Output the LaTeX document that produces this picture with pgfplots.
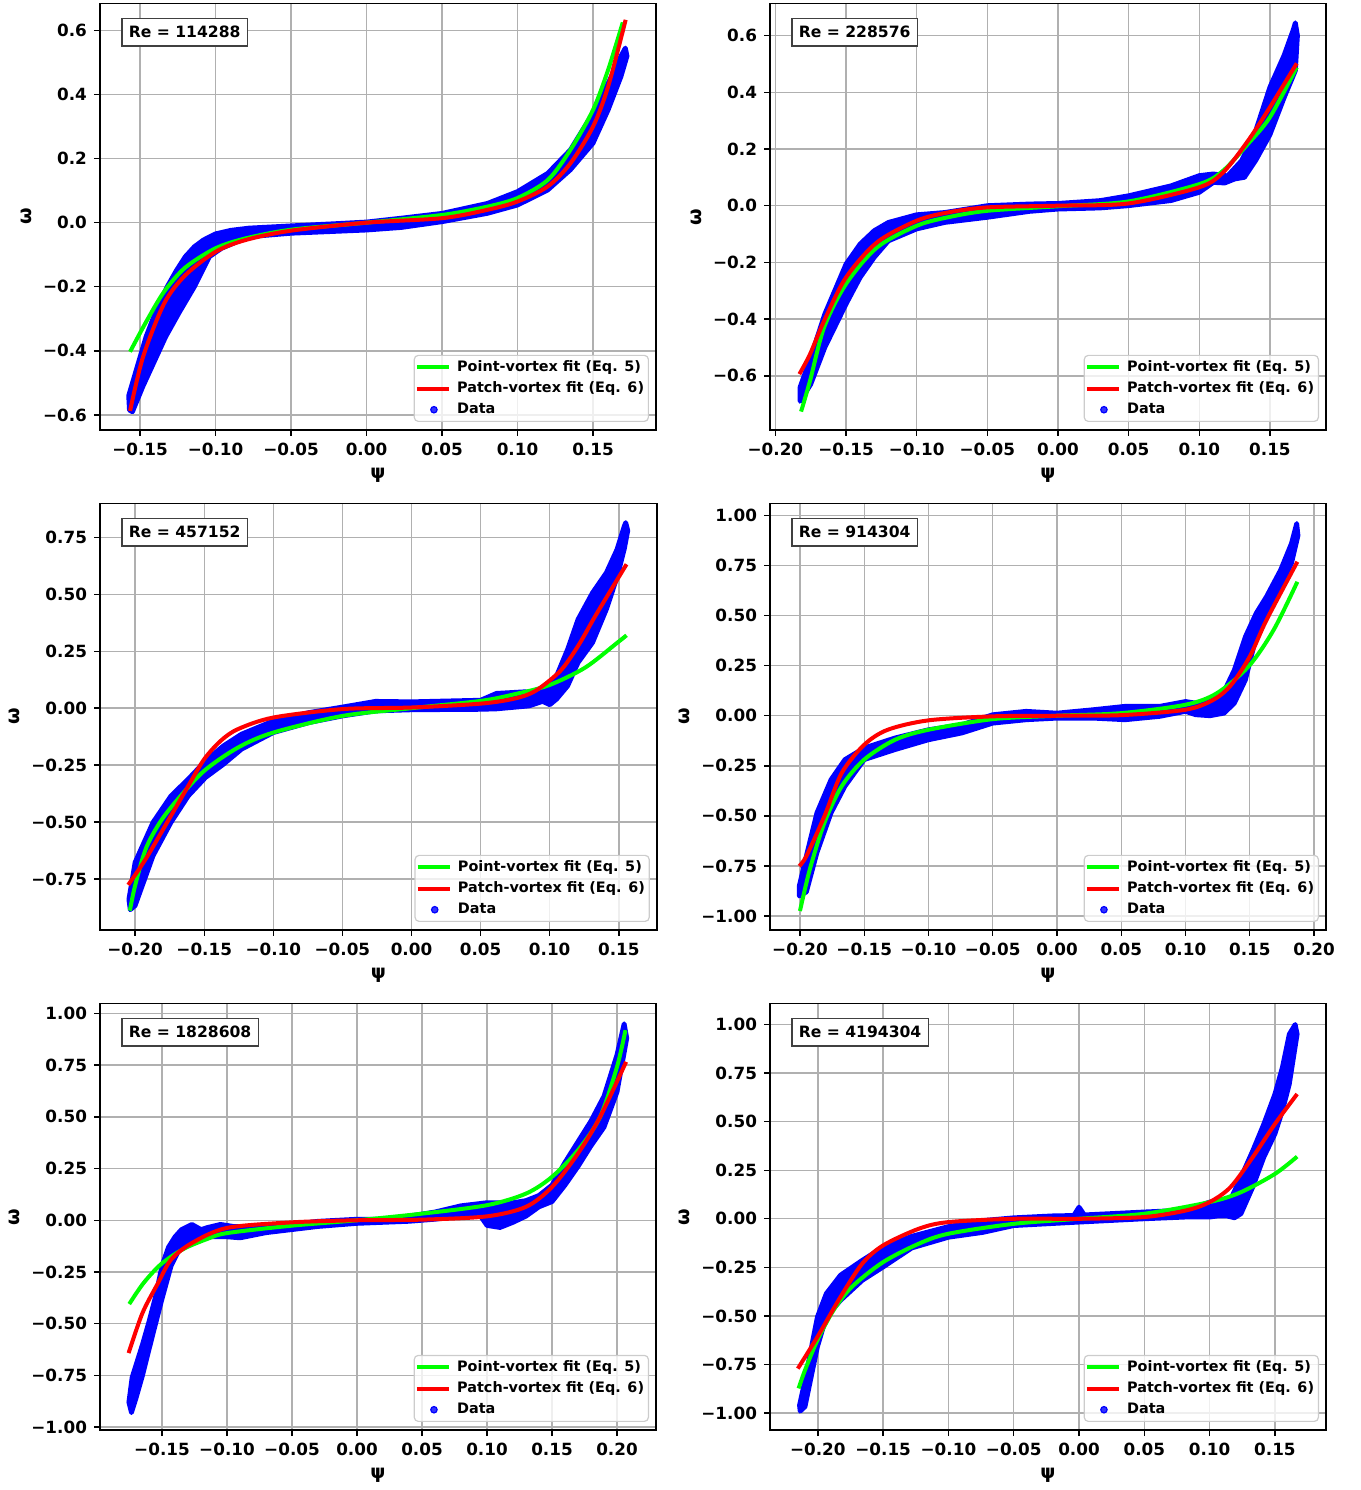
\documentclass[border=0pt]{standalone}
\usepackage{pgfplots}
\pgfplotsset{compat=1.18}
\usepackage{fontspec}
\setmainfont{DejaVu Sans}
\definecolor{mplblue}{RGB}{0,0,255}
\definecolor{mplgreen}{RGB}{0,255,0}
\definecolor{mplred}{RGB}{255,0,0}
\definecolor{gridgray}{RGB}{176,176,176}
\definecolor{leggray}{RGB}{204,204,204}
\tikzset{
  rebox/.style={anchor=north west, draw=black!75, line width=0.7pt, fill=white,
    inner xsep=3.5pt, inner ysep=4pt, font=\fontsize{7.8}{9}\selectfont\bfseries},
}
\pgfplotsset{
  panel/.style={
    scale only axis, width=278pt, height=213.25pt, anchor=south west,
    grid=major,
    grid style={draw=gridgray, line width=0.7pt},
    axis line style={line width=0.7pt, black},
    tick align=outside, major tick length=3pt, tick pos=left,
    every tick/.style={black, line width=0.7pt},
    tick label style={font=\fontsize{8.4}{10}\selectfont\bfseries},
    xlabel={ψ}, ylabel={ω},
    label style={font=\fontsize{9.5}{11}\selectfont\bfseries},
    xlabel style={at={(rel axis cs:0.5,0)}, anchor=center, yshift=-22.5pt},
    legend cell align=left,
    legend style={at={(rel axis cs:0.9874,0.0188)}, anchor=south east,
      draw=leggray, line width=0.6pt, fill=white, fill opacity=0.8,
      draw opacity=1, text opacity=1, rounded corners=2pt,
      font=\fontsize{7.2}{8.6}\selectfont\bfseries,
      inner xsep=0.3pt, inner ysep=0.6pt, column sep=1.3pt,
      nodes={inner sep=1.85pt}},
  },
  band/.style={draw=mplblue, fill=mplblue, line width=2.4pt, line join=round, line cap=round, forget plot},
  gfit/.style={color=mplgreen, line width=2pt, smooth, no marks,
    legend image code/.code={\draw[##1] (0pt,0pt) -- (16pt,0pt);}},
  rfit/.style={color=mplred, line width=2pt, smooth, no marks,
    legend image code/.code={\draw[##1] (0pt,0pt) -- (16pt,0pt);}},
  datamark/.style={only marks, mark=*, mark size=1.6pt, color=mplblue},
}
\begin{document}
\begin{tikzpicture}
\path[use as bounding box] (0,0) rectangle (680.5pt,745pt);

% ---------- Panel 1 ----------
\begin{axis}[panel, at={(50pt,530pt)},
  xmin=-0.1765, xmax=0.1917, ymin=-0.647, ymax=0.684,
  xtick={-0.15,-0.10,-0.05,0,0.05,0.10,0.15},
  xticklabels={−0.15,−0.10,−0.05,0.00,0.05,0.10,0.15},
  ytick={-0.6,-0.4,-0.2,0,0.2,0.4,0.6},
  yticklabels={−0.6,−0.4,−0.2,0.0,0.2,0.4,0.6},
  ylabel style={at={(rel axis cs:0,0.5)}, anchor=center, yshift=37pt}]
\addplot[band] coordinates {
(-0.1575,-0.54) (-0.146,-0.356) (-0.139,-0.27) (-0.132,-0.2) (-0.126,-0.15)
(-0.12,-0.106) (-0.114,-0.075) (-0.108,-0.054) (-0.10,-0.035) (-0.09,-0.024)
(-0.078,-0.017) (-0.05,-0.01) (-0.02,-0.003) (0,0.002) (0.023,0.014) (0.05,0.029)
(0.08,0.06) (0.10,0.097) (0.12,0.154) (0.135,0.227) (0.15,0.342) (0.16,0.435)
(0.1685,0.52) (0.1714,0.545)
(0.1725,0.52) (0.1685,0.456) (0.16,0.352) (0.15,0.248) (0.135,0.165) (0.12,0.102)
(0.10,0.055) (0.08,0.029) (0.05,0.003) (0.023,-0.015) (0,-0.023) (-0.05,-0.033)
(-0.078,-0.044) (-0.096,-0.08) (-0.104,-0.106) (-0.114,-0.2) (-0.124,-0.28)
(-0.133,-0.356) (-0.148,-0.51) (-0.155,-0.59) (-0.157,-0.585)} -- cycle;
\addplot[gfit] coordinates {
(-0.1566,-0.403) (-0.146,-0.31) (-0.134,-0.215) (-0.12,-0.14) (-0.10,-0.08)
(-0.08,-0.049) (-0.05,-0.022) (0,0) (0.05,0.024) (0.08,0.05) (0.10,0.077)
(0.12,0.133) (0.135,0.227) (0.15,0.352) (0.16,0.477) (0.1697,0.625)};
\addlegendentry{Point-vortex fit (Eq. 5)}
\addplot[rfit] coordinates {
(-0.1566,-0.5875) (-0.148,-0.419) (-0.134,-0.252) (-0.12,-0.164) (-0.10,-0.091)
(-0.08,-0.054) (-0.05,-0.025) (0,0) (0.05,0.014) (0.08,0.04) (0.10,0.066)
(0.12,0.113) (0.135,0.185) (0.15,0.30) (0.16,0.425) (0.1716,0.633)};
\addlegendentry{Patch-vortex fit (Eq. 6)}
\addlegendimage{datamark}
\addlegendentry{Data}
\node[rebox] at (rel axis cs:0.038,0.967) {Re = 114288};
\end{axis}

% ---------- Panel 2 ----------
\begin{axis}[panel, at={(385pt,530pt)},
  xmin=-0.2038, xmax=0.1897, ymin=-0.791, ymax=0.713,
  xtick={-0.20,-0.15,-0.10,-0.05,0,0.05,0.10,0.15},
  xticklabels={−0.20,−0.15,−0.10,−0.05,0.00,0.05,0.10,0.15},
  ytick={-0.6,-0.4,-0.2,0,0.2,0.4,0.6},
  yticklabels={−0.6,−0.4,−0.2,0.0,0.2,0.4,0.6},
  ylabel style={at={(rel axis cs:0,0.5)}, anchor=center, yshift=37pt}]
\addplot[band] coordinates {
(-0.1825,-0.64) (-0.175,-0.535) (-0.165,-0.382) (-0.15,-0.206) (-0.14,-0.135)
(-0.13,-0.088) (-0.12,-0.059) (-0.10,-0.032) (-0.08,-0.024) (-0.05,0.0)
(-0.02,0.006) (0,0.008) (0.03,0.018) (0.05,0.035) (0.08,0.07) (0.10,0.106)
(0.11,0.112) (0.12,0.105) (0.13,0.159) (0.14,0.265) (0.15,0.418) (0.16,0.53)
(0.1665,0.62) (0.168,0.645)
(0.1695,0.60) (0.168,0.476) (0.16,0.38) (0.15,0.25) (0.14,0.16) (0.132,0.10)
(0.125,0.094) (0.118,0.08) (0.11,0.082) (0.10,0.047) (0.08,0.018) (0.05,0.0)
(0.03,-0.008) (0,-0.012) (-0.02,-0.02) (-0.05,-0.041) (-0.08,-0.059)
(-0.10,-0.082) (-0.12,-0.124) (-0.13,-0.182) (-0.14,-0.253) (-0.15,-0.347)
(-0.165,-0.50) (-0.175,-0.63) (-0.1825,-0.69)} -- cycle;
\addplot[gfit] coordinates {
(-0.1818,-0.726) (-0.1755,-0.618) (-0.1655,-0.429) (-0.15,-0.276) (-0.128,-0.147)
(-0.10,-0.071) (-0.078,-0.041) (-0.05,-0.018) (0,-0.002) (0.05,0.015)
(0.10,0.076) (0.117,0.124) (0.1345,0.218) (0.15,0.312) (0.169,0.488)};
\addlegendentry{Point-vortex fit (Eq. 5)}
\addplot[rfit] coordinates {
(-0.183,-0.594) (-0.1755,-0.524) (-0.1655,-0.406) (-0.15,-0.253) (-0.128,-0.129)
(-0.10,-0.053) (-0.078,-0.024) (-0.05,-0.006) (0,0) (0.05,0.008) (0.10,0.065)
(0.117,0.118) (0.1345,0.229) (0.15,0.347) (0.169,0.502)};
\addlegendentry{Patch-vortex fit (Eq. 6)}
\addlegendimage{datamark}
\addlegendentry{Data}
\node[rebox] at (rel axis cs:0.038,0.967) {Re = 228576};
\end{axis}

% ---------- Panel 3 ----------
\begin{axis}[panel, at={(50pt,280pt)},
  xmin=-0.2254, xmax=0.1775, ymin=-0.974, ymax=0.899,
  xtick={-0.20,-0.15,-0.10,-0.05,0,0.05,0.10,0.15},
  xticklabels={−0.20,−0.15,−0.10,−0.05,0.00,0.05,0.10,0.15},
  ytick={-0.75,-0.5,-0.25,0,0.25,0.5,0.75},
  yticklabels={−0.75,−0.50,−0.25,0.00,0.25,0.50,0.75},
  ylabel style={at={(rel axis cs:0,0.5)}, anchor=center, yshift=43pt}]
\addplot[band] coordinates {
(-0.2045,-0.84) (-0.20,-0.677) (-0.187,-0.501) (-0.174,-0.385) (-0.1615,-0.311)
(-0.149,-0.231) (-0.136,-0.165) (-0.123,-0.114) (-0.10,-0.056) (-0.074,-0.019)
(-0.05,0.005) (-0.026,0.03) (0,0.028) (0.05,0.035) (0.0615,0.065) (0.082,0.072)
(0.092,0.065) (0.10,0.09) (0.105,0.142) (0.113,0.259) (0.1205,0.39) (0.131,0.507)
(0.141,0.595) (0.1487,0.697) (0.154,0.80) (0.155,0.815)
(0.1565,0.78) (0.154,0.70) (0.149,0.58) (0.141,0.434) (0.131,0.288) (0.1205,0.20)
(0.113,0.098) (0.105,0.04) (0.10,0.015) (0.095,0.03) (0.085,0.01) (0.0615,-0.003)
(0.05,-0.005) (0,-0.007) (-0.026,-0.012) (-0.05,-0.034) (-0.074,-0.063)
(-0.10,-0.107) (-0.123,-0.18) (-0.136,-0.246) (-0.149,-0.304) (-0.1615,-0.385)
(-0.174,-0.501) (-0.187,-0.648) (-0.20,-0.867) (-0.2035,-0.885)} -- cycle;
\addplot[gfit] coordinates {
(-0.2038,-0.889) (-0.20,-0.779) (-0.1923,-0.618) (-0.182,-0.501) (-0.169,-0.399)
(-0.15,-0.275) (-0.1256,-0.173) (-0.10,-0.107) (-0.05,-0.034) (0,0) (0.05,0.032)
(0.0744,0.061) (0.0995,0.101) (0.1256,0.178) (0.149,0.288) (0.1556,0.32)};
\addlegendentry{Point-vortex fit (Eq. 5)}
\addplot[rfit] coordinates {
(-0.205,-0.776) (-0.1923,-0.662) (-0.174,-0.472) (-0.1615,-0.341) (-0.15,-0.224)
(-0.138,-0.143) (-0.1256,-0.092) (-0.10,-0.041) (-0.05,-0.004) (0,0.003)
(0.05,0.02) (0.0744,0.042) (0.0897,0.076) (0.1077,0.164) (0.1205,0.273)
(0.133,0.405) (0.149,0.566) (0.1556,0.632)};
\addlegendentry{Patch-vortex fit (Eq. 6)}
\addlegendimage{datamark}
\addlegendentry{Data}
\node[rebox] at (rel axis cs:0.038,0.967) {Re = 457152};
\end{axis}

% ---------- Panel 4 ----------
\begin{axis}[panel, at={(385pt,280pt)},
  xmin=-0.2233, xmax=0.2093, ymin=-1.070, ymax=1.060,
  xtick={-0.20,-0.15,-0.10,-0.05,0,0.05,0.10,0.15,0.20},
  xticklabels={−0.20,−0.15,−0.10,−0.05,0.00,0.05,0.10,0.15,0.20},
  ytick={-1,-0.75,-0.5,-0.25,0,0.25,0.5,0.75,1},
  yticklabels={−1.00,−0.75,−0.50,−0.25,0.00,0.25,0.50,0.75,1.00},
  ylabel style={at={(rel axis cs:0,0.5)}, anchor=center, yshift=43pt}]
\addplot[band] coordinates {
(-0.2005,-0.85) (-0.195,-0.70) (-0.1868,-0.485) (-0.1758,-0.319) (-0.165,-0.219)
(-0.15,-0.161) (-0.126,-0.111) (-0.10,-0.07) (-0.074,-0.045) (-0.05,0.005)
(-0.024,0.022) (0,0.013) (0.028,0.03) (0.053,0.047) (0.08,0.047) (0.10,0.071)
(0.108,0.063) (0.119,0.08) (0.13,0.121) (0.138,0.229) (0.1466,0.395)
(0.155,0.512) (0.163,0.595) (0.174,0.728) (0.1824,0.86) (0.1865,0.96)
(0.1875,0.90) (0.1824,0.761) (0.174,0.645) (0.163,0.512) (0.155,0.395)
(0.1466,0.179) (0.138,0.063) (0.13,0.013) (0.119,0.0) (0.108,0.005) (0.10,0.022)
(0.08,-0.003) (0.053,-0.02) (0.028,-0.012) (0,-0.012) (-0.024,-0.02)
(-0.05,-0.037) (-0.074,-0.086) (-0.10,-0.12) (-0.126,-0.169) (-0.15,-0.219)
(-0.165,-0.352) (-0.1758,-0.485) (-0.1868,-0.684) (-0.195,-0.88) (-0.2005,-0.90)} -- cycle;
\addplot[gfit] coordinates {
(-0.2,-0.975) (-0.1923,-0.767) (-0.181,-0.535) (-0.1675,-0.352) (-0.15,-0.219)
(-0.126,-0.12) (-0.10,-0.07) (-0.05,-0.017) (0,0) (0.05,0.013) (0.10,0.055)
(0.1245,0.113) (0.149,0.246) (0.1686,0.429) (0.187,0.669)};
\addlegendentry{Point-vortex fit (Eq. 5)}
\addplot[rfit] coordinates {
(-0.2006,-0.751) (-0.195,-0.701) (-0.181,-0.502) (-0.1675,-0.286) (-0.15,-0.145)
(-0.1317,-0.07) (-0.10,-0.023) (-0.05,-0.003) (0,0) (0.05,0.003) (0.10,0.03)
(0.1218,0.08) (0.1355,0.154) (0.15,0.296) (0.163,0.478) (0.187,0.769)};
\addlegendentry{Patch-vortex fit (Eq. 6)}
\addlegendimage{datamark}
\addlegendentry{Data}
\node[rebox] at (rel axis cs:0.038,0.967) {Re = 914304};
\end{axis}

% ---------- Panel 5 ----------
\begin{axis}[panel, at={(50pt,30pt)},
  xmin=-0.1977, xmax=0.230, ymin=-1.014, ymax=1.048,
  xtick={-0.15,-0.10,-0.05,0,0.05,0.10,0.15,0.20},
  xticklabels={−0.15,−0.10,−0.05,0.00,0.05,0.10,0.15,0.20},
  ytick={-1,-0.75,-0.5,-0.25,0,0.25,0.5,0.75,1},
  yticklabels={−1.00,−0.75,−0.50,−0.25,0.00,0.25,0.50,0.75,1.00},
  ylabel style={at={(rel axis cs:0,0.5)}, anchor=center, yshift=43pt}]
\addplot[band] coordinates {
(-0.1755,-0.88) (-0.173,-0.76) (-0.170,-0.70) (-0.165,-0.60) (-0.160,-0.49)
(-0.155,-0.37) (-0.150,-0.22) (-0.145,-0.13) (-0.140,-0.08) (-0.135,-0.045)
(-0.127,-0.02) (-0.12,-0.045) (-0.115,-0.035) (-0.105,-0.02) (-0.095,-0.03)
(-0.07,-0.03) (-0.05,-0.02) (-0.03,-0.005) (0,0.005) (0.02,0.005) (0.04,0.02)
(0.06,0.04) (0.08,0.07) (0.10,0.085) (0.12,0.085) (0.13,0.095) (0.14,0.12)
(0.15,0.17) (0.16,0.28) (0.17,0.38) (0.18,0.48) (0.19,0.60) (0.20,0.80) (0.2055,0.95)
(0.2075,0.88) (0.20,0.62) (0.19,0.45) (0.18,0.36) (0.17,0.26) (0.16,0.17)
(0.15,0.09) (0.14,0.065) (0.13,0.02) (0.12,-0.01) (0.11,-0.035) (0.10,-0.025)
(0.095,0.02) (0.08,0.02) (0.06,0.005) (0.04,-0.005) (0.02,-0.01) (0,-0.015)
(-0.03,-0.03) (-0.05,-0.045) (-0.07,-0.06) (-0.09,-0.085) (-0.10,-0.08)
(-0.115,-0.08) (-0.127,-0.09) (-0.135,-0.12) (-0.143,-0.22) (-0.150,-0.38)
(-0.157,-0.55) (-0.165,-0.75) (-0.170,-0.86) (-0.1735,-0.93)} -- cycle;
\addplot[gfit] coordinates {
(-0.1752,-0.405) (-0.17,-0.355) (-0.165,-0.31) (-0.16,-0.272) (-0.155,-0.238)
(-0.15,-0.208) (-0.14,-0.163) (-0.13,-0.128) (-0.115,-0.09) (-0.10,-0.062)
(-0.05,-0.026) (0,0) (0.05,0.032) (0.10,0.073) (0.13,0.129) (0.15,0.21)
(0.17,0.339) (0.187,0.5) (0.20,0.742) (0.2065,0.919)};
\addlegendentry{Point-vortex fit (Eq. 5)}
\addplot[rfit] coordinates {
(-0.1757,-0.642) (-0.165,-0.448) (-0.153,-0.303) (-0.143,-0.19) (-0.127,-0.11)
(-0.10,-0.037) (-0.05,-0.01) (0,0) (0.05,0.003) (0.10,0.019) (0.13,0.065)
(0.15,0.161) (0.17,0.323) (0.187,0.5) (0.207,0.766)};
\addlegendentry{Patch-vortex fit (Eq. 6)}
\addlegendimage{datamark}
\addlegendentry{Data}
\node[rebox] at (rel axis cs:0.038,0.967) {Re = 1828608};
\end{axis}

% ---------- Panel 6 ----------
\begin{axis}[panel, at={(385pt,30pt)},
  xmin=-0.2366, xmax=0.1891, ymin=-1.087, ymax=1.108,
  xtick={-0.20,-0.15,-0.10,-0.05,0,0.05,0.10,0.15},
  xticklabels={−0.20,−0.15,−0.10,−0.05,0.00,0.05,0.10,0.15},
  ytick={-1,-0.75,-0.5,-0.25,0,0.25,0.5,0.75,1},
  yticklabels={−1.00,−0.75,−0.50,−0.25,0.00,0.25,0.50,0.75,1.00},
  ylabel style={at={(rel axis cs:0,0.5)}, anchor=center, yshift=43pt}]
\addplot[band] coordinates {
(-0.214,-0.96) (-0.2098,-0.83) (-0.2003,-0.505) (-0.1935,-0.385) (-0.1826,-0.29)
(-0.166,-0.214) (-0.15,-0.146) (-0.128,-0.09) (-0.10,-0.04) (-0.0736,-0.009)
(-0.05,0.005) (-0.02,0.015) (-0.004,0.017) (0.0,0.06) (0.004,0.02) (0.05,0.035)
(0.082,0.045) (0.10,0.086) (0.107,0.08) (0.116,0.10) (0.124,0.214) (0.133,0.35)
(0.1415,0.488) (0.15,0.642) (0.1557,0.779) (0.161,0.95) (0.1655,1.0)
(0.167,0.95) (0.161,0.693) (0.1557,0.556) (0.15,0.437) (0.1415,0.317)
(0.133,0.163) (0.124,0.026) (0.119,0.005) (0.113,0.015) (0.107,0.015) (0.10,0.009)
(0.082,0.009) (0.05,0.0) (0,-0.017) (-0.05,-0.035) (-0.0736,-0.07)
(-0.10,-0.095) (-0.128,-0.15) (-0.15,-0.248) (-0.166,-0.317) (-0.1826,-0.42)
(-0.1935,-0.505) (-0.2003,-0.659) (-0.2098,-0.967) (-0.2135,-0.99)} -- cycle;
\addplot[gfit] coordinates {
(-0.2147,-0.873) (-0.2098,-0.779) (-0.2003,-0.625) (-0.188,-0.471) (-0.174,-0.351)
(-0.15,-0.223) (-0.1226,-0.128) (-0.10,-0.077) (-0.05,-0.026) (0,0) (0.05,0.026)
(0.10,0.086) (0.124,0.137) (0.15,0.231) (0.167,0.32)};
\addlegendentry{Point-vortex fit (Eq. 5)}
\addplot[rfit] coordinates {
(-0.2153,-0.771) (-0.2003,-0.608) (-0.1826,-0.402) (-0.166,-0.231) (-0.15,-0.137)
(-0.1226,-0.051) (-0.10,-0.017) (-0.05,0) (0,0) (0.05,0.009) (0.082,0.043)
(0.10,0.086) (0.116,0.163) (0.133,0.317) (0.15,0.488) (0.167,0.642)};
\addlegendentry{Patch-vortex fit (Eq. 6)}
\addlegendimage{datamark}
\addlegendentry{Data}
\node[rebox] at (rel axis cs:0.038,0.967) {Re = 4194304};
\end{axis}
\end{tikzpicture}
\end{document}
